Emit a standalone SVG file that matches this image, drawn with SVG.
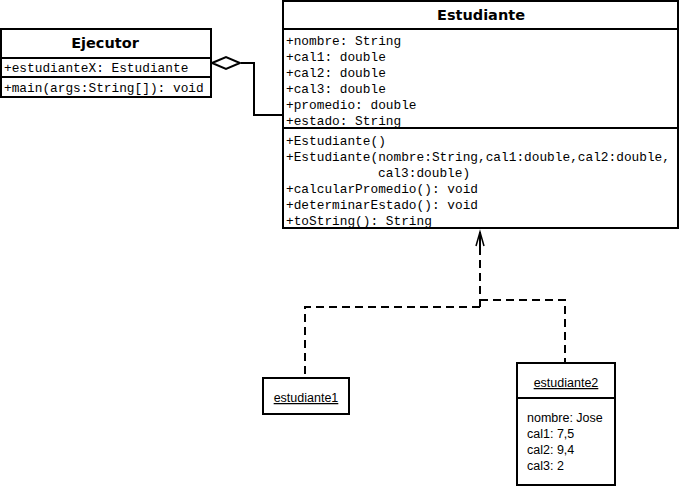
<svg xmlns="http://www.w3.org/2000/svg" width="680" height="488" viewBox="0 0 680 488">
<style>
.box{fill:#fff;stroke:#000;stroke-width:2}
.div{stroke:#000;stroke-width:2}
.title{font-family:"DejaVu Sans","Liberation Sans",sans-serif;font-weight:bold;font-size:14.5px;text-anchor:middle;fill:#000}
.mono{font-family:"Liberation Mono","Courier New",monospace;font-size:12.8px;fill:#000}
.obj{font-family:"Liberation Sans",Arial,sans-serif;font-size:12.5px;fill:#000}
.conn{fill:none;stroke:#000;stroke-width:2}
.dash{fill:none;stroke:#000;stroke-width:2;stroke-dasharray:8,5}
</style>
<rect width="680" height="488" fill="#fff"/>
<g id="connectors">
  <path class="conn" d="M241,63 H254 V115 H283"/>
  <polygon points="212,63 226,57 240,63 226,69" fill="#fff" stroke="#000" stroke-width="2"/>
  <path class="dash" d="M480,307 V248"/>
  <path class="conn" d="M480,232 V250"/>
  <path fill="none" stroke="#000" stroke-width="1.5" d="M476,246 L480,232 L484,246"/>
  <path class="dash" d="M480,300 H565 V363"/>
  <path class="dash" d="M480,307 H305 V378"/>
</g>
<g id="Ejecutor">
  <rect class="box" x="1" y="29" width="210" height="68"/>
  <line class="div" x1="1" y1="58" x2="211" y2="58"/>
  <line class="div" x1="1" y1="77" x2="211" y2="77"/>
  <text class="title" x="105" y="48">Ejecutor</text>
  <text class="mono" x="4" y="72">+estudianteX: Estudiante</text>
  <text class="mono" x="4" y="92">+main(args:String[]): void</text>
</g>
<g id="Estudiante">
  <rect class="box" x="283" y="1" width="395" height="227"/>
  <line class="div" x1="283" y1="29" x2="678" y2="29"/>
  <line class="div" x1="283" y1="128" x2="678" y2="128"/>
  <text class="title" x="481" y="20">Estudiante</text>
  <text class="mono" x="286" y="45">+nombre: String</text>
  <text class="mono" x="286" y="61">+cal1: double</text>
  <text class="mono" x="286" y="77">+cal2: double</text>
  <text class="mono" x="286" y="93">+cal3: double</text>
  <text class="mono" x="286" y="109">+promedio: double</text>
  <text class="mono" x="286" y="125">+estado: String</text>
  <text class="mono" x="286" y="145">+Estudiante()</text>
  <text class="mono" x="286" y="161">+Estudiante(nombre:String,cal1:double,cal2:double,</text>
  <text class="mono" x="378" y="177">cal3:double)</text>
  <text class="mono" x="286" y="193">+calcularPromedio(): void</text>
  <text class="mono" x="286" y="209">+determinarEstado(): void</text>
  <text class="mono" x="286" y="225">+toString(): String</text>
</g>
<g id="estudiante1">
  <rect class="box" x="263" y="378" width="86" height="36"/>
  <text class="obj" x="306" y="402" text-anchor="middle" text-decoration="underline">estudiante1</text>
</g>
<g id="estudiante2">
  <rect class="box" x="517" y="363" width="98" height="122"/>
  <line class="div" x1="517" y1="398" x2="615" y2="398"/>
  <text class="obj" x="566" y="387" text-anchor="middle" text-decoration="underline">estudiante2</text>
  <text class="obj" x="527" y="422">nombre: Jose</text>
  <text class="obj" x="527" y="438">cal1: 7,5</text>
  <text class="obj" x="527" y="454">cal2: 9,4</text>
  <text class="obj" x="527" y="470">cal3: 2</text>
</g>
</svg>
